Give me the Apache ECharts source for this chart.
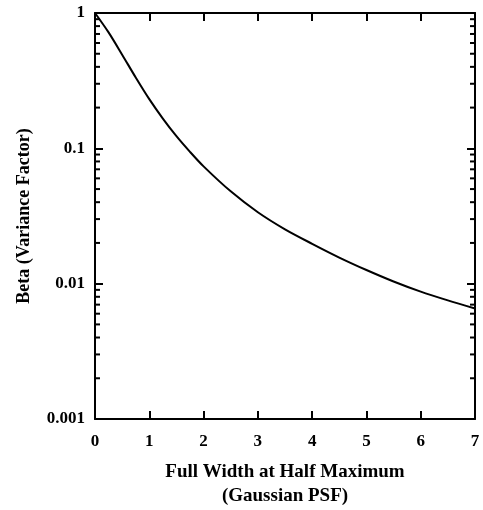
<!DOCTYPE html>
<html>
<head>
<meta charset="utf-8">
<script src="https://cdn.jsdelivr.net/npm/echarts@6/dist/echarts.min.js"></script>
<style>html,body{margin:0;padding:0;background:#fff}#c{width:483px;height:510px}</style>
</head>
<body>
<div id="c"></div>
<script>
// FWHM values (x) and Beta (variance factor) values (y)
var fwhm = [0, 0.25, 0.5, 0.75, 1, 1.25, 1.5, 1.75, 2, 2.5, 3, 3.5, 4, 4.5, 5, 5.5, 6, 6.5, 7];
var beta = [1.0, 0.719, 0.492, 0.334, 0.231, 0.166, 0.123, 0.0942, 0.0736, 0.0481, 0.0337, 0.0252, 0.0197, 0.0156, 0.01262, 0.01038, 0.00873, 0.00752, 0.00655];
var xTicks = [0, 1, 2, 3, 4, 5, 6, 7];
var yTickLabels = ['0.001', '0.01', '0.1', '1'];
var minorTickValues = [0.002,0.003,0.004,0.005,0.006,0.007,0.008,0.009,
                       0.02,0.03,0.04,0.05,0.06,0.07,0.08,0.09,
                       0.2,0.3,0.4,0.5,0.6,0.7,0.8,0.9];

var FONT = '"Liberation Serif", "Times New Roman", serif';
var chart = echarts.init(document.getElementById('c'), null, {renderer: 'canvas'});
var axisLine = {show: true, onZero: false, lineStyle: {color: '#000', width: 2}};
var tickStyle = {show: true, inside: true, length: 8, lineStyle: {color: '#000', width: 2}};
var option = {
  animation: false,
  backgroundColor: '#fff',
  grid: {left: 95, right: 8, top: 13, bottom: 91, containLabel: false, outerBoundsMode: 'none'},
  xAxis: [{
    type: 'value', min: 0, max: 7, interval: 1,
    axisLine: axisLine, axisTick: tickStyle, splitLine: {show: false},
    axisLabel: {color: '#000', fontFamily: FONT, fontWeight: 'bold', fontSize: 17, margin: 14,
      formatter: function (v) { return xTicks.indexOf(v) >= 0 ? String(v) : ''; }},
    name: 'Full Width at Half Maximum\n(Gaussian PSF)',
    nameLocation: 'middle', nameGap: 41,
    nameTextStyle: {color: '#000', fontFamily: FONT, fontWeight: 'bold', fontSize: 19, lineHeight: 24}
  }, {
    type: 'value', position: 'top', min: 0, max: 7, interval: 1,
    axisLine: axisLine, axisTick: tickStyle, axisLabel: {show: false}, splitLine: {show: false}
  }],
  yAxis: [{
    type: 'log', logBase: 10, min: 0.001, max: 1,
    axisLine: axisLine, axisTick: tickStyle, splitLine: {show: false},
    axisLabel: {color: '#000', fontFamily: FONT, fontWeight: 'bold', fontSize: 17, margin: 10,
      formatter: function (v) {
        var e = Math.round(Math.log10(v));
        return yTickLabels[e + 3] || '';
      }},
    name: 'Beta (Variance Factor)', nameLocation: 'middle', nameGap: 62, nameRotate: 90,
    nameTextStyle: {color: '#000', fontFamily: FONT, fontWeight: 'bold', fontSize: 18}
  }, {
    type: 'log', logBase: 10, min: 0.001, max: 1, position: 'right',
    axisLine: axisLine, axisTick: tickStyle, axisLabel: {show: false}, splitLine: {show: false}
  }],
  series: [{
    type: 'line',
    data: fwhm.map(function (x, i) { return [x, beta[i]]; }),
    smooth: 0.3, showSymbol: false, symbol: 'none',
    lineStyle: {color: '#000', width: 2},
    z: 3
  }, {
    type: 'custom',
    data: minorTickValues.map(function (v) { return [0, v]; }),
    renderItem: function (params, api) {
      var v = api.value(1);
      var pl = api.coord([0, v]);
      var pr = api.coord([7, v]);
      var st = {stroke: '#000', lineWidth: 2};
      return {type: 'group', children: [
        {type: 'line', shape: {x1: pl[0], y1: pl[1], x2: pl[0] + 5, y2: pl[1]}, style: st},
        {type: 'line', shape: {x1: pr[0], y1: pr[1], x2: pr[0] - 5, y2: pr[1]}, style: st}
      ]};
    },
    silent: true, z: 4
  }]
};
chart.setOption(option);
</script>
</body>
</html>
